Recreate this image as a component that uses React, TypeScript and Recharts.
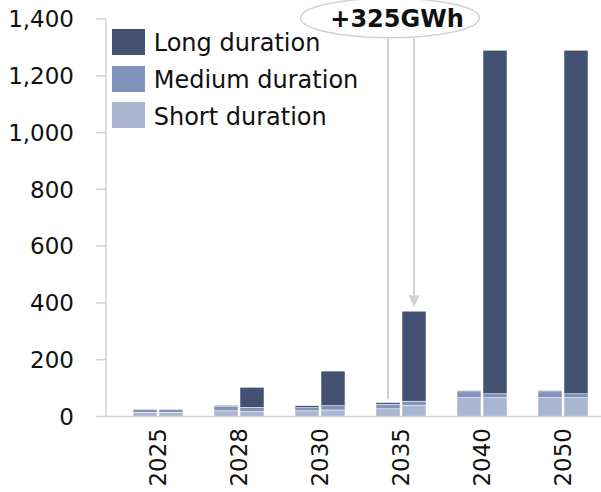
import React from 'react';
import { BarChart, Bar, XAxis, YAxis, Legend } from 'recharts';

const years = ['2025', '2028', '2030', '2035', '2040', '2050'];

// left bar of each pair
const leftShort = [15, 20, 20, 27, 66, 66];
const leftMedium = [10, 15, 11, 16, 21, 21];
const leftLong = [0, 4, 7, 6, 4, 4];

// right bar of each pair
const rightShort = [15, 17, 23, 39, 66, 66];
const rightMedium = [10, 15, 15, 15, 14, 14];
const rightLong = [0, 71, 122, 317, 1210, 1210];

const yTicks = [0, 200, 400, 600, 800, 1000, 1200, 1400];
const legendNames = ['Long duration', 'Medium duration', 'Short duration'];
const calloutYear = '2035';
const calloutText = '+325GWh';

const FONT = '"DejaVu Sans", Verdana, sans-serif';
const LONG = '#435173';
const MEDIUM = '#8193bb';
const SHORT = '#aab5d2';
const GREY = '#d2d2d2';
const legendColors = [LONG, MEDIUM, SHORT];

const rows = years.map((year, i) => ({
  year,
  leftShort: leftShort[i],
  leftMedium: leftMedium[i],
  leftLong: leftLong[i],
  rightShort: rightShort[i],
  rightMedium: rightMedium[i],
  rightLong: rightLong[i],
}));

const Segment = (props: any) => {
  const { x, y, width, height, fill } = props;
  if (!height) return null;
  return <rect x={x} y={y} width={width} height={height} fill={fill} stroke="#fff" strokeWidth={0.5} />;
};

const isCallout = (props: any) => (props.payload && props.payload.year) === calloutYear;

const LeftLongShape = (props: any) => {
  const { x, y, width } = props;
  const cx = x + width / 2;
  return (
    <g>
      <Segment {...props} />
      {isCallout(props) && (
        <line x1={cx} x2={cx} y1={38} y2={y - 3.5} stroke={GREY} strokeWidth={2} />
      )}
    </g>
  );
};

const RightLongShape = (props: any) => {
  const { x, y, width } = props;
  const cx = x + width / 2;
  if (!isCallout(props)) return <Segment {...props} />;
  // left bar centre sits one bar + gap to the left
  const leftCx = cx - width - 2;
  return (
    <g>
      <Segment {...props} />
      <line x1={cx} x2={cx} y1={38} y2={y - 16} stroke={GREY} strokeWidth={2} />
      <polygon points={`${cx - 5.5},${y - 16} ${cx + 5.5},${y - 16} ${cx},${y - 4}`} fill={GREY} />
      <ellipse cx={leftCx + 2} cy={18} rx={89.5} ry={19.7} fill="#fff" stroke={GREY} strokeWidth={1.5} />
      <text x={leftCx + 9} y={27} textAnchor="middle" fontFamily={FONT} fontWeight="bold" fontSize={24} fill="#111">
        {calloutText}
      </text>
    </g>
  );
};

const YearTick = (props: any) => {
  const { x, y, payload } = props;
  return (
    <text
      x={x}
      y={y}
      dy="0.36em"
      textAnchor="end"
      transform={`rotate(-90, ${x}, ${y})`}
      fontFamily={FONT}
      fontSize={23}
      fill="#111"
    >
      {payload.value}
    </text>
  );
};

const LegendBox = () => (
  <div style={{ fontFamily: FONT, fontSize: 24, color: '#111' }}>
    {legendNames.map((name, i) => (
      <div key={name} style={{ display: 'flex', alignItems: 'center', height: 36.7 }}>
        <span style={{ width: 33, height: 26, background: legendColors[i], marginRight: 9, flex: 'none' }} />
        <span style={{ lineHeight: '26px', position: 'relative', top: 1.5, whiteSpace: 'nowrap' }}>{name}</span>
      </div>
    ))}
  </div>
);

export default function App() {
  return (
    <div style={{ position: 'absolute', left: 0, top: 0, width: 601, height: 492, overflow: 'hidden', background: '#fff' }}>
      <BarChart
        width={603}
        height={492}
        data={rows}
        margin={{ top: 19, right: 0, bottom: 0, left: 0 }}
        barSize={24}
        barGap={2}
      >
        <XAxis
          dataKey="year"
          height={75.5}
          interval={0}
          padding={{ left: 11, right: 0 }}
          tickLine={false}
          tickSize={0}
          tickMargin={11.5}
          tick={<YearTick />}
          axisLine={{ stroke: GREY, strokeWidth: 1.5 }}
        />
        <YAxis
          width={106}
          domain={[0, 1400]}
          ticks={yTicks}
          interval={0}
          tickSize={10}
          tickMargin={22}
          tickFormatter={(v: number) => v.toLocaleString('en-US')}
          tick={{ fontSize: 23, fill: '#111', fontFamily: FONT }}
          tickLine={{ stroke: GREY, strokeWidth: 1.5 }}
          axisLine={{ stroke: GREY, strokeWidth: 1.5 }}
        />
        <Legend
          layout="vertical"
          align="center"
          verticalAlign="middle"
          content={<LegendBox />}
          wrapperStyle={{ left: 111.7, top: 23.6, width: 280 }}
        />
        <Bar dataKey="leftShort" stackId="left" fill={SHORT} shape={Segment} isAnimationActive={false} />
        <Bar dataKey="leftMedium" stackId="left" fill={MEDIUM} shape={Segment} isAnimationActive={false} />
        <Bar dataKey="leftLong" stackId="left" fill={LONG} shape={LeftLongShape} isAnimationActive={false} />
        <Bar dataKey="rightShort" stackId="right" fill={SHORT} shape={Segment} isAnimationActive={false} />
        <Bar dataKey="rightMedium" stackId="right" fill={MEDIUM} shape={Segment} isAnimationActive={false} />
        <Bar dataKey="rightLong" stackId="right" fill={LONG} shape={RightLongShape} isAnimationActive={false} />
      </BarChart>
    </div>
  );
}
